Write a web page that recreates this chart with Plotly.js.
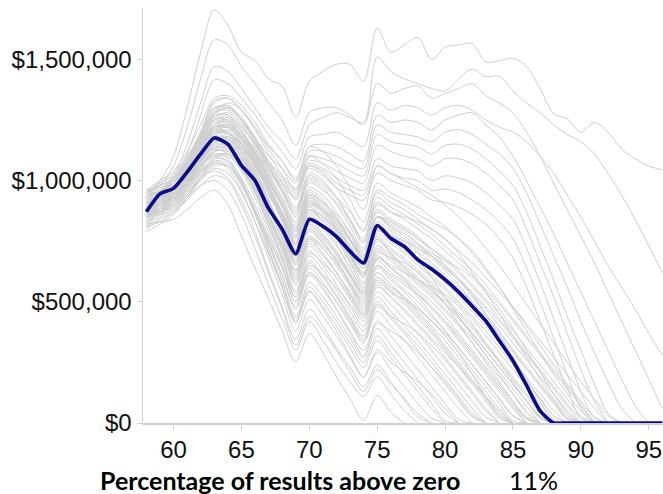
<!DOCTYPE html>
<html><head><meta charset="utf-8">
<script src="https://cdn.plot.ly/plotly-3.0.1.min.js"></script>
<style>html,body{margin:0;padding:0;background:#fff}#chart{width:663px;height:494px}</style>
</head><body><div id="chart"></div>
<script>
// Ages (x values)
const ages = [58,59,60,61,62,63,64,65,66,67,68,69,70,71,72,73,74,75,76,77,78,79,80,81,82,83,84,85,86,87,88,89,90,91,92,93,94,95,96];
const xTickVals = [60,65,70,75,80,85,90,95];
// y values in thousands of dollars
const yTickVals = [0,500,1000,1500];
const yTickText = ['$0','$500,000','$1,000,000','$1,500,000'];
const xTitle = 'Percentage of results above zero';
const pctAboveZero = '11%';

// Highlighted (median) path
const highlight = [871,945,968,1035,1110,1176,1150,1063,1000,885,800,698,840,812,769,708,660,815,762,728,673,635,591,540,482,421,339,257,155,50,0,0,0,0,0,0,0,0,0];

// Simulated paths (each listed from age 58 until it reaches zero)
const s01 = [820,830,840,880,930,960,900,770,640,510,380,252,369,290,190,100,11,114,45,0];
const s02 = [850,860,880,930,980,1000,960,860,720,570,430,300,420,340,250,170,110,190,120,50,0];
const s03 = [880,870,890,950,1010,1040,1010,920,790,630,480,345,470,400,310,230,150,240,170,95,25,0];
const s04 = [800,840,870,920,980,1020,1000,900,770,620,470,320,440,380,300,210,130,220,160,100,40,0];
const s05 = [900,920,930,980,1040,1080,1050,960,830,680,530,380,510,440,360,270,190,290,220,150,80,20,0];
const s06 = [840,880,900,960,1030,1070,1060,980,860,710,560,410,545,480,400,310,230,340,270,200,130,60,0];
const s07 = [930,950,940,990,1060,1110,1090,1000,870,720,570,430,560,500,420,330,250,360,290,220,150,80,10,0];
const s08 = [870,900,940,1000,1060,1100,1080,1000,880,740,590,440,580,520,440,350,270,390,320,250,180,110,40,0];
const s09 = [810,850,880,940,1010,1060,1060,990,880,750,610,470,610,550,470,380,300,420,360,290,220,150,80,15,0];
const s10 = [900,930,960,1020,1090,1130,1110,1040,930,790,650,500,640,580,500,410,330,460,400,340,270,200,130,60,0];
const s11 = [860,890,910,980,1060,1120,1120,1050,950,810,670,520,660,600,520,430,350,490,430,370,300,230,160,90,25,0];
const s12 = [880,910,930,1000,1080,1140,1130,1060,950,820,680,535,670,610,530,440,360,500,440,380,320,250,180,110,40,0];
const s13 = [920,940,960,1010,1080,1150,1140,1070,960,830,690,545,690,630,550,460,380,520,460,400,340,270,200,130,60,0];
const s14 = [850,900,930,990,1060,1110,1100,1050,960,840,710,570,710,650,570,480,400,540,490,430,370,300,230,160,90,25,0];
const s15 = [890,920,950,1010,1100,1170,1170,1100,990,860,730,590,730,670,600,510,430,570,520,460,400,340,270,200,130,60,0];
const s16 = [820,870,900,960,1030,1090,1110,1060,970,860,740,600,740,690,620,530,440,590,540,490,430,370,300,230,160,90,20,0];
const s17 = [830,870,900,960,1040,1100,1110,1060,980,860,740,610,750,700,620,530,450,600,550,500,440,380,310,240,170,100,30,0];
const s18 = [940,960,990,1050,1130,1200,1190,1120,1020,890,760,630,770,720,650,560,470,620,570,520,460,400,340,270,200,130,60,0];
const s19 = [870,910,950,1020,1100,1160,1160,1100,1010,900,780,650,790,740,670,580,500,650,600,550,500,440,380,310,240,170,100,30,0];
const s20 = [850,880,910,970,1050,1120,1130,1080,1000,890,780,660,800,750,670,580,490,640,590,540,480,420,360,290,220,150,80,10,0];
const s21 = [910,930,950,1000,1080,1170,1180,1120,1030,910,790,660,800,740,670,570,480,620,570,510,450,390,320,250,180,110,40,0];
const s22 = [900,930,960,1030,1120,1210,1220,1150,1050,920,800,670,810,760,690,600,520,670,620,580,530,470,410,340,270,200,130,60,0];
const s23 = [960,980,1000,1060,1140,1210,1200,1130,1040,920,800,680,820,770,700,610,530,680,640,590,540,480,420,350,280,210,140,70,0];
const s24 = [850,880,920,990,1070,1140,1150,1100,1020,910,800,690,830,780,710,620,540,690,640,600,550,500,440,370,300,230,160,90,25,0];
const s25 = [910,950,980,1040,1130,1220,1230,1170,1080,960,840,710,850,800,730,640,560,710,670,620,570,520,460,400,330,260,190,120,50,0];
const s26 = [910,950,970,1040,1130,1220,1230,1170,1080,970,860,740,880,830,760,660,570,720,680,630,580,530,470,410,350,280,210,140,70,0];
const s27 = [830,880,920,990,1080,1160,1180,1140,1060,960,850,740,880,840,770,680,600,750,700,650,600,550,490,430,370,300,230,160,90,20,0];
const s28 = [880,910,940,1000,1080,1160,1170,1120,1040,940,840,730,870,830,760,670,580,730,690,640,590,540,490,430,370,300,230,160,90,25,0];
const s29 = [950,970,1000,1070,1160,1250,1250,1180,1090,980,870,750,890,850,780,690,600,760,710,670,620,570,510,450,390,320,250,180,110,40,0];
const s30 = [870,900,930,990,1070,1150,1170,1130,1060,960,860,760,900,860,790,700,610,770,720,680,630,580,520,460,400,330,260,190,120,50,0];
const s31 = [860,900,930,1000,1090,1180,1200,1150,1070,970,870,770,910,870,800,710,620,780,740,700,650,600,550,490,430,360,290,220,150,80,15,0];
const s32 = [890,930,950,1020,1110,1190,1200,1150,1070,970,870,770,910,870,810,720,640,800,750,710,660,610,560,500,440,380,310,240,170,100,30,0];
const s33 = [900,940,970,1040,1130,1230,1250,1200,1110,1000,900,790,930,890,820,730,640,800,760,720,680,630,580,520,460,400,330,260,190,120,50,0];
const s34 = [950,990,1020,1090,1180,1270,1270,1210,1120,1010,900,800,940,900,840,760,680,850,810,770,730,690,640,590,540,480,420,350,280,210,140,70,0];
const s35 = [870,910,940,1000,1080,1170,1190,1150,1080,990,900,800,940,910,860,790,710,870,830,800,760,720,670,620,560,500,430,360,290,220,150,80,20,0];
const s36 = [880,920,950,1010,1100,1200,1220,1180,1110,1010,910,810,950,910,840,750,660,820,780,740,700,650,600,550,490,430,360,290,220,150,80,15,0];
const s37 = [900,940,960,1030,1120,1210,1230,1190,1120,1020,920,820,960,920,850,760,670,830,790,750,710,660,610,560,500,440,370,300,230,160,90,20,0];
const s38 = [930,960,990,1060,1150,1260,1280,1230,1140,1030,930,830,970,940,870,780,690,850,810,780,740,690,640,590,530,470,400,330,260,190,120,50,0];
const s39 = [890,930,970,1050,1150,1270,1300,1260,1170,1060,960,860,1000,970,900,810,720,880,840,810,770,720,680,630,570,510,450,380,310,240,170,100,30,0];
const s40 = [940,980,1010,1080,1170,1280,1300,1250,1170,1070,970,880,1020,990,930,840,760,930,890,860,820,780,730,680,630,570,500,430,360,290,220,150,80,10,0];
const s41 = [920,960,1000,1080,1180,1290,1310,1260,1180,1080,990,890,1030,1000,930,840,750,910,870,840,800,760,710,660,610,550,490,420,350,280,210,140,70,0];
const s42 = [950,990,1030,1100,1200,1320,1340,1290,1210,1110,1020,920,1060,1030,970,880,790,950,910,880,840,800,760,710,660,600,540,480,410,340,270,200,130,60,0];
const s43 = [910,950,990,1070,1170,1280,1320,1290,1220,1130,1050,960,1100,1070,1010,920,830,990,950,920,890,850,810,760,700,630,560,480,400,320,240,160,90,25,0];
const s44 = [960,1000,1040,1120,1230,1340,1350,1310,1240,1150,1080,1000,1140,1120,1060,970,880,1060,1030,1000,970,940,900,850,790,720,650,570,490,410,330,250,170,100,30,0];
const s45 = [950,1000,1100,1300,1530,1705,1640,1530,1495,1420,1390,1260,1410,1450,1480,1480,1410,1630,1530,1560,1590,1500,1550,1560,1565,1490,1495,1505,1470,1380,1275,1255,1200,1240,1200,1130,1090,1060,1044];
const s46 = [930,980,1060,1220,1420,1580,1560,1470,1400,1320,1250,1145,1280,1300,1300,1270,1230,1400,1360,1380,1390,1340,1360,1380,1400,1350,1320,1280,1200,1100,990,880,770,660,540,420,300,180,60];
const s47 = [900,950,1020,1150,1320,1470,1450,1380,1300,1220,1160,1090,1230,1260,1280,1260,1240,1510,1450,1420,1400,1380,1370,1420,1460,1430,1430,1370,1320,1280,1230,1190,1160,1110,1030,940,840,730,620];
const s48 = [920,960,1010,1110,1270,1415,1400,1340,1270,1190,1120,1050,1180,1190,1200,1170,1140,1320,1290,1310,1300,1270,1300,1310,1290,1250,1220,1200,1160,1100,1030,940,850,750,650,560,470,370,280];
const s49 = [890,940,990,1080,1200,1330,1340,1290,1220,1140,1080,1010,1140,1150,1140,1110,1080,1270,1240,1250,1240,1210,1250,1270,1280,1230,1180,1100,1000,890,780,660,540,420,300,180,70,0];
const s50 = [910,950,1000,1080,1190,1300,1300,1250,1180,1100,1050,990,1120,1120,1100,1070,1050,1230,1200,1190,1180,1160,1200,1210,1190,1150,1110,1050,950,820,690,560,420,290,170,60,0];
const s51 = [870,920,970,1060,1170,1280,1290,1240,1160,1080,1020,970,1100,1090,1070,1040,1020,1190,1160,1150,1140,1110,1145,1150,1130,1090,1040,980,870,730,590,440,300,160,40,0];
const s52 = [900,940,980,1050,1150,1260,1270,1220,1150,1070,1010,960,1080,1070,1040,1010,990,1145,1120,1100,1090,1060,1090,1090,1070,1030,980,920,800,660,520,370,220,90,0];
const s53 = [860,910,960,1040,1140,1240,1250,1200,1130,1050,1000,950,1070,1050,1010,980,960,1090,1060,1050,1040,1000,1020,1010,990,950,900,840,720,580,430,280,130,20,0];
const s54 = [880,920,960,1030,1130,1230,1240,1190,1120,1040,990,940,1060,1040,990,960,940,1060,1030,1010,1000,960,965,950,920,880,830,760,640,500,350,200,60,0];
const s55 = [850,900,950,1020,1120,1220,1230,1180,1110,1030,980,930,1050,1020,970,940,920,1030,1000,980,960,920,910,890,860,820,760,680,560,420,280,140,20,0];
const s56 = [790,820,860,930,1000,1050,1030,950,830,700,560,420,540,470,380,280,190,300,250,210,170,120,60,0];
const s57 = [960,940,950,1010,1090,1160,1150,1080,980,850,720,580,700,660,600,520,450,580,540,510,470,420,360,290,200,110,30,0];
const s58 = [820,860,910,990,1080,1150,1180,1150,1080,970,850,720,860,810,740,640,550,700,680,660,620,560,490,410,330,250,170,90,20,0];
const s59 = [900,950,990,1060,1150,1250,1260,1200,1100,980,860,740,900,880,840,780,700,850,820,790,740,700,670,640,600,540,470,390,300,210,120,40,0];
const s60 = [870,880,900,950,1020,1090,1080,1010,900,770,640,500,620,560,470,370,280,410,380,340,290,230,170,100,30,0];
const s61 = [840,890,930,1000,1090,1190,1210,1170,1100,1000,900,790,930,880,800,700,610,760,700,640,590,560,530,480,410,330,250,170,90,20,0];
const s62 = [930,960,980,1040,1120,1200,1200,1140,1060,950,830,700,850,810,760,690,620,790,760,720,670,600,520,440,360,280,200,120,40,0];
const s63 = [880,900,920,980,1060,1130,1140,1090,1000,880,760,630,770,730,680,610,540,680,650,620,590,550,500,440,370,300,230,160,90,30,0];
const s64 = [810,830,870,930,1010,1080,1070,990,870,740,610,480,620,570,500,420,340,480,440,410,370,320,260,190,120,50,0];
const s65 = [950,980,1010,1090,1190,1300,1310,1250,1160,1050,950,850,990,960,910,830,740,900,870,850,830,800,760,700,620,540,450,360,270,180,100,30,0];
const s66 = [860,870,890,940,1010,1070,1060,990,880,760,640,520,650,610,560,490,420,560,520,470,410,350,290,230,170,110,50,0];
const s67 = [900,930,970,1040,1130,1230,1240,1180,1090,990,890,780,920,880,820,750,680,850,830,800,760,710,650,590,520,450,380,300,230,160,90,20,0];
const s68 = [830,870,900,970,1050,1130,1140,1090,1010,900,790,680,820,770,700,620,530,680,640,590,520,450,380,310,240,170,100,30,0];
const s69 = [920,960,1000,1070,1160,1250,1260,1220,1150,1050,960,870,1010,980,930,870,800,960,930,900,860,830,800,760,710,640,560,470,380,290,200,120,50,0];
const s70 = [880,920,960,1040,1130,1220,1220,1160,1070,960,850,740,880,850,800,730,650,800,770,750,720,680,630,570,500,420,340,260,180,100,30,0];
const s71 = [850,890,920,980,1050,1120,1120,1060,970,860,740,620,760,720,660,580,510,650,610,570,530,480,420,360,290,220,150,80,15,0];
const s72 = [910,940,960,1020,1090,1170,1170,1110,1010,890,760,630,760,700,620,540,460,600,560,520,470,420,370,310,240,170,100,30,0];
const s73 = [890,910,940,1010,1100,1190,1200,1150,1070,970,870,770,910,880,830,760,690,850,800,760,720,690,650,600,530,450,360,270,180,90,15,0];

const paths = [s01,s02,s03,s04,s05,s06,s07,s08,s09,s10,s11,s12,s13,s14,s15,s16,s17,s18,s19,s20,
  s21,s22,s23,s24,s25,s26,s27,s28,s29,s30,s31,s32,s33,s34,s35,s36,s37,s38,s39,s40,
  s41,s42,s43,s44,s45,s46,s47,s48,s49,s50,s51,s52,s53,s54,s55,s56,s57,s58,s59,s60,
  s61,s62,s63,s64,s65,s66,s67,s68,s69,s70,s71,s72,s73];

const traces = paths.map(p => ({
  x: ages.slice(0, p.length), y: p, type: 'scatter', mode: 'lines',
  line: {color: '#cecece', width: 1, shape: 'spline', smoothing: 0.9},
  hoverinfo: 'skip'
}));
traces.push({
  x: ages, y: highlight, type: 'scatter', mode: 'lines',
  line: {color: '#0b0b8a', width: 3.6, shape: 'spline', smoothing: 0.6},
  hoverinfo: 'skip'
});

const tickFont = {family: 'Liberation Sans, Arial, sans-serif', size: 24, color: '#111'};
const layout = {
  width: 663, height: 494,
  margin: {l: 143, r: 0, t: 8, b: 71},
  paper_bgcolor: '#ffffff', plot_bgcolor: '#ffffff',
  showlegend: false, hovermode: false,
  xaxis: {
    range: [57.75, 96.05], tickmode: 'array', tickvals: xTickVals,
    ticks: 'outside', ticklen: 5, tickcolor: '#d0d0d0', tickwidth: 1,
    showline: true, linecolor: '#d0d0d0', linewidth: 1.5,
    showgrid: false, zeroline: false, tickfont: tickFont
  },
  yaxis: {
    range: [0, 1712], tickmode: 'array', tickvals: yTickVals, ticktext: yTickText,
    ticks: 'outside', ticklen: 5, tickcolor: '#d0d0d0', tickwidth: 1,
    showline: true, linecolor: '#d0d0d0', linewidth: 1.5,
    showgrid: false, zeroline: false, tickfont: tickFont
  },
  annotations: [
    {text: '<b>' + xTitle + '</b>', xref: 'paper', yref: 'paper', x: -0.0865, xanchor: 'left',
     y: -0.137, yanchor: 'middle', showarrow: false,
     font: {family: 'Lato, Open Sans, sans-serif', size: 25, color: '#000'}},
    {text: pctAboveZero, xref: 'paper', yref: 'paper', x: 0.700, xanchor: 'left',
     y: -0.137, yanchor: 'middle', showarrow: false,
     font: {family: 'Lato, Open Sans, sans-serif', size: 25, color: '#000'}}
  ]
};
Plotly.newPlot('chart', traces, layout, {displayModeBar: false, staticPlot: true});
</script>
</body></html>
